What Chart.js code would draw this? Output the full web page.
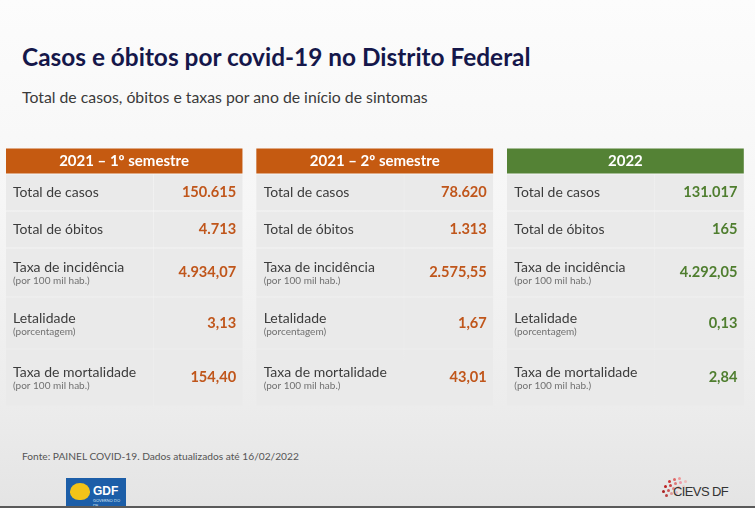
<!DOCTYPE html>
<html><head><meta charset="utf-8">
<script src="https://cdn.jsdelivr.net/npm/chart.js@4/dist/chart.umd.min.js"></script>
<style>
html,body{margin:0;padding:0;}
body{width:755px;height:508px;position:relative;overflow:hidden;
 background:linear-gradient(180deg,#fcfcfc 0%,#f6f6f6 40%,#ececec 80%,#e4e4e4 100%);
 font-family:Lato,"Open Sans",sans-serif;}
#title{position:absolute;left:22px;top:42px;font-size:24.4px;font-weight:700;color:#15174a;white-space:nowrap;}
#subtitle{position:absolute;left:22px;top:87px;font-size:15.8px;color:#3a3a3a;white-space:nowrap;}
#source{position:absolute;left:22px;top:450px;font-size:10.2px;color:#555;white-space:nowrap;}
#c{position:absolute;left:6px;top:148px;}
#gdf{position:absolute;left:66px;top:478px;width:60px;height:30px;background:#1c5ea8;}
#gdf .sun{position:absolute;left:4px;top:5px;width:20px;height:17px;border-radius:50% 50% 45% 45%;background:#f2c318;}
#gdf .txt{position:absolute;left:27px;top:6px;font-size:12px;font-weight:900;color:#fff;font-family:"Liberation Sans",Arial,sans-serif;}
#gdf .sm{position:absolute;left:27px;top:20px;font-size:4px;color:#cfe0f2;}
#cievs{position:absolute;left:660px;top:476px;width:90px;height:28px;}
#cievs .txt{position:absolute;left:13px;top:8px;font-size:13px;color:#333;letter-spacing:-0.6px;font-family:"Liberation Sans",Arial,sans-serif;}
#cievs i{position:absolute;width:3px;height:3px;border-radius:50%;}
#bottom{position:absolute;left:0;top:506px;width:755px;height:2px;background:#5a5a5a;}
</style>
</head><body>
<div id="title">Casos e óbitos por covid-19 no Distrito Federal</div>
<div id="subtitle">Total de casos, óbitos e taxas por ano de início de sintomas</div>
<canvas id="c" width="752" height="258"></canvas>
<div id="source">Fonte: PAINEL COVID-19. Dados atualizados até 16/02/2022</div>
<div id="gdf"><div class="sun"></div><div class="txt">GDF</div><div class="sm">GOVERNO DO DF</div></div>
<div id="cievs"></div>
<div id="bottom"></div>
<script>
// ---- DATA ----
const tableTitles = ['2021 – 1º semestre', '2021 – 2º semestre', '2022'];
const rowLabels = ['Total de casos', 'Total de óbitos', 'Taxa de incidência', 'Letalidade', 'Taxa de mortalidade'];
const rowNotes = ['', '', '(por 100 mil hab.)', '(porcentagem)', '(por 100 mil hab.)'];
const rowDecimals = [0, 0, 2, 2, 2];
const values2021s1 = [150615, 4713, 4934.07, 3.13, 154.40];
const values2021s2 = [78620, 1313, 2575.55, 1.67, 43.01];
const values2022 = [131017, 165, 4292.05, 0.13, 2.84];
const tableValues = [values2021s1, values2021s2, values2022];

// ---- STYLE / LAYOUT ----
const headerColors = ['#c55a11', '#c55a11', '#548235'];
const valueColors = ['#c0561b', '#c0561b', '#4f7e2f'];
const cellColor = '#eaeaea';
const ROW_H = [26, 37, 37, 49, 52, 57];
const GAP = 1.5;
const TABLE_W = 0.942, LABEL_W = 0.586, DIV_W = 0.004;

function fmt(v, d) {
  const s = v.toFixed(d);
  let [ip, dp] = s.split('.');
  ip = ip.replace(/\B(?=(\d{3})+(?!\d))/g, '.');
  return dp ? ip + ',' + dp : ip;
}

const yBounds = [0];
ROW_H.forEach(h => yBounds.push(yBounds[yBounds.length - 1] + h));
const centers = ROW_H.map((h, i) => yBounds[i] + h / 2);

const datasets = [{
  label: 'header',
  data: tableTitles.map((t, i) => ({x: [i, i + TABLE_W], y: centers[0]})),
  backgroundColor: headerColors,
  barThickness: ROW_H[0] - GAP,
  grouped: false
}];
rowLabels.forEach((lab, r) => {
  const data = [];
  for (let i = 0; i < tableTitles.length; i++) {
    data.push({x: [i, i + LABEL_W], y: centers[r + 1]});
    data.push({x: [i + LABEL_W + DIV_W, i + TABLE_W], y: centers[r + 1]});
  }
  datasets.push({label: lab, data, backgroundColor: cellColor, barThickness: ROW_H[r + 1] - GAP, grouped: false});
});

const textPlugin = {
  id: 'tableText',
  afterDatasetsDraw(chart) {
    const {ctx, scales: {x, y}} = chart;
    ctx.save();
    ctx.textBaseline = 'middle';
    tableTitles.forEach((t, i) => {
      const x0 = x.getPixelForValue(i), x1 = x.getPixelForValue(i + TABLE_W);
      ctx.fillStyle = '#ffffff';
      ctx.font = 'bold 15px Lato';
      ctx.textAlign = 'center';
      ctx.fillText(t, (x0 + x1) / 2, y.getPixelForValue(centers[0]));
      rowLabels.forEach((lab, r) => {
        const cy = y.getPixelForValue(centers[r + 1]);
        const note = rowNotes[r];
        ctx.textAlign = 'left';
        ctx.fillStyle = '#3c3c3c';
        ctx.font = '14px Lato';
        ctx.fillText(lab, x0 + 7, note ? cy - 5 : cy);
        if (note) {
          ctx.fillStyle = '#707070';
          ctx.font = '10px Lato';
          ctx.fillText(note, x0 + 7, cy + 8.5);
        }
        ctx.textAlign = 'right';
        ctx.fillStyle = valueColors[i];
        ctx.font = 'bold 14.6px Lato';
        ctx.fillText(fmt(tableValues[i][r], rowDecimals[r]), x1 - 6, cy);
      });
    });
    ctx.restore();
  }
};

new Chart(document.getElementById('c'), {
  type: 'bar',
  data: {datasets},
  options: {
    indexAxis: 'y',
    responsive: false,
    animation: false,
    layout: {padding: 0},
    plugins: {legend: {display: false}, tooltip: {enabled: false}, title: {display: false}},
    scales: {
      x: {type: 'linear', min: 0, max: 3, display: false, offset: false},
      y: {type: 'linear', min: 0, max: yBounds[yBounds.length - 1], reverse: true, display: false, offset: false}
    }
  },
  plugins: [textPlugin]
});

// CIEVS logo dots (decorative)
const cv = document.getElementById('cievs');
const dots = [[8,4,'#c33'],[13,2,'#d66'],[18,1,'#e99'],[4,9,'#b22'],[9,8,'#c44'],[14,6,'#d77'],[19,5,'#e9a'],[24,4,'#ebb'],[2,14,'#a22'],[7,13,'#c55'],[12,11,'#d88'],[17,10,'#ea9'],[22,9,'#ecc'],[5,18,'#b44'],[10,16,'#d99'],[15,15,'#ebb']];
dots.forEach(d => { const e = document.createElement('i'); e.style.left = d[0] + 'px'; e.style.top = d[1] + 'px'; e.style.background = d[2]; cv.appendChild(e); });
const ct = document.createElement('div'); ct.className = 'txt'; ct.textContent = 'CIEVS DF'; cv.appendChild(ct);
</script>
</body></html>
